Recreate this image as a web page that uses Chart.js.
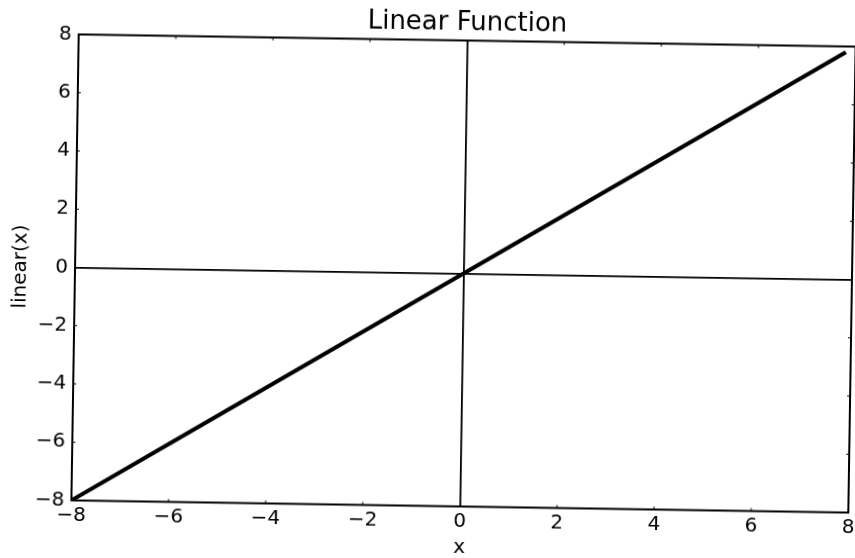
<!DOCTYPE html>
<html>
<head>
<meta charset="utf-8">
<script src="https://cdn.jsdelivr.net/npm/chart.js@4/dist/chart.umd.min.js"></script>
<style>
  html, body { margin: 0; padding: 0; width: 855px; height: 558px; overflow: hidden; background: #fff; }
  #wrap {
    position: absolute; left: 0; top: 0; width: 900px; height: 580px;
    transform-origin: 463.5px 273.5px;
    transform: rotate(0.9deg);
  }
  canvas { display: block; }
</style>
</head>
<body>
<div id="wrap"><canvas id="chart" width="900" height="580" style="width:900px;height:580px"></canvas></div>
<script>
// Sample points of linear(x) = x
const xValues = [-8, -6, -4, -2, 0, 2, 4, 6, 7.8];
const yValues = [-8, -6, -4, -2, 0, 2, 4, 6, 7.8];

// Axis tick positions
const xTickValues = [-8, -6, -4, -2, 0, 2, 4, 6, 8];
const yTickValues = [-8, -6, -4, -2, 0, 2, 4, 6, 8];

const chartTitle = 'Linear Function';
const xTitle = 'x';
const yTitle = 'linear(x)';

Chart.defaults.font.family = "'DejaVu Sans', sans-serif";
Chart.defaults.color = '#000';

const formatTick = v => (v < 0 ? '\u2212' + Math.abs(v) : String(v));

// Box around the plot area plus short inward tick marks on every side
const framePlugin = {
  id: 'frame',
  afterDraw(chart) {
    const { ctx, chartArea: a, scales } = chart;
    ctx.save();
    ctx.strokeStyle = '#000';
    ctx.lineWidth = 1;
    ctx.beginPath();
    scales.x.ticks.forEach(t => {
      const px = scales.x.getPixelForValue(t.value);
      ctx.moveTo(px, a.bottom); ctx.lineTo(px, a.bottom - 3);
      ctx.moveTo(px, a.top); ctx.lineTo(px, a.top + 3);
    });
    scales.y.ticks.forEach(t => {
      const py = scales.y.getPixelForValue(t.value);
      ctx.moveTo(a.left, py); ctx.lineTo(a.left + 3, py);
      ctx.moveTo(a.right, py); ctx.lineTo(a.right - 3, py);
    });
    ctx.stroke();
    ctx.lineWidth = 2;
    ctx.strokeRect(a.left, a.top, a.right - a.left, a.bottom - a.top);
    ctx.restore();
  }
};

const zeroLine = ctx => (ctx.tick && ctx.tick.value === 0 ? '#000' : 'rgba(0,0,0,0)');

new Chart(document.getElementById('chart'), {
  type: 'scatter',
  data: {
    datasets: [{
      data: xValues.map((x, i) => ({ x, y: yValues[i] })),
      showLine: true,
      borderColor: '#000',
      borderWidth: 4,
      pointRadius: 0,
      pointHoverRadius: 0,
      fill: false,
      tension: 0
    }]
  },
  options: {
    responsive: false,
    devicePixelRatio: 1,
    animation: false,
    events: [],
    layout: { padding: { left: 0, right: 48, top: 0, bottom: 0 } },
    plugins: {
      legend: { display: false },
      tooltip: { enabled: false },
      title: {
        display: true,
        text: chartTitle,
        fullSize: false,
        color: '#000',
        font: { size: 26, weight: 'normal' },
        padding: { top: 7.4, bottom: 1.9 }
      }
    },
    scales: {
      x: {
        type: 'linear',
        min: -8, max: 8,
        afterBuildTicks: s => { s.ticks = xTickValues.map(v => ({ value: v })); },
        afterFit: s => { s.height = 73.5; },
        ticks: { callback: formatTick, font: { size: 20 }, color: '#000', padding: 3, maxRotation: 0 },
        grid: { color: zeroLine, lineWidth: 1.8, drawTicks: false },
        border: { display: false },
        title: { display: true, text: xTitle, color: '#000', font: { size: 20 }, padding: { top: 0, bottom: 20 } }
      },
      y: {
        type: 'linear',
        min: -8, max: 8,
        afterBuildTicks: s => { s.ticks = yTickValues.map(v => ({ value: v })); },
        afterFit: s => { s.width = 75; },
        ticks: { callback: formatTick, font: { size: 20 }, color: '#000', padding: 7 },
        grid: { color: zeroLine, lineWidth: 1.8, drawTicks: false },
        border: { display: false },
        title: { display: true, text: yTitle, color: '#000', font: { size: 20 }, padding: { top: 9, bottom: 0 } }
      }
    }
  },
  plugins: [framePlugin]
});
</script>
</body>
</html>
